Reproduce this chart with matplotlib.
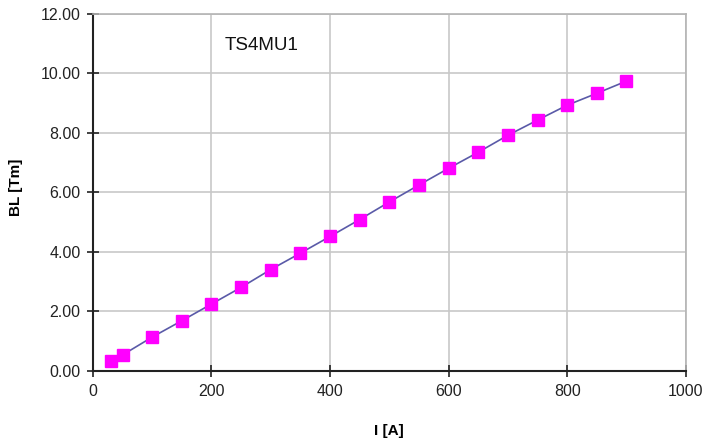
import matplotlib
matplotlib.use("Agg")
import matplotlib.pyplot as plt

# data
current = [30, 50, 100, 150, 200, 250, 300, 350, 400, 450,
           500, 550, 600, 650, 700, 750, 800, 850, 900]
bl = [0.33, 0.54, 1.14, 1.69, 2.25, 2.81, 3.41, 3.96, 4.52, 5.09,
      5.68, 6.25, 6.81, 7.35, 7.92, 8.43, 8.93, 9.33, 9.74]

x_ticks = [0, 200, 400, 600, 800, 1000]
y_ticks = [0, 2, 4, 6, 8, 10, 12]

plt.rcParams['font.family'] = ['Liberation Sans', 'DejaVu Sans']

fig = plt.figure(figsize=(7.04, 4.47), dpi=100)
ax = fig.add_axes([0.132, 0.170, 0.842, 0.799])

ax.plot(current, bl, color='#5a5aa8', linewidth=1.2, zorder=3)
ax.plot(current, bl, linestyle='none', marker='s', markersize=9,
        markerfacecolor='#ff00ff', markeredgecolor='#ff00ff', zorder=4)

ax.set_xlim(0, 1000)
ax.set_ylim(0, 12)
ax.set_xticks(x_ticks)
ax.set_yticks(y_ticks)
ax.set_yticklabels([f"{v:.2f}" for v in y_ticks])
ax.tick_params(direction='inout', length=8, width=1.2, colors='#222222',
               labelsize=11.5, pad=5)

ax.grid(True, color='#c8c8c8', linewidth=1.2)
ax.set_axisbelow(True)

for side in ['left', 'bottom']:
    ax.spines[side].set_color('#222222')
    ax.spines[side].set_linewidth(1.5)
for side in ['right', 'top']:
    ax.spines[side].set_color('#b4b4b4')
    ax.spines[side].set_linewidth(1.2)

ax.set_xlabel("I [A]", fontsize=11, fontweight='bold')
ax.set_ylabel("BL [Tm]", fontsize=11, fontweight='bold')
ax.xaxis.set_label_coords(0.499, -0.148)
ax.yaxis.set_label_coords(-0.118, 0.515)

ax.text(285, 10.95, "TS4MU1", fontsize=13.5, ha='center', va='center',
        color='#111111')

fig.savefig("out.png", dpi=100)
